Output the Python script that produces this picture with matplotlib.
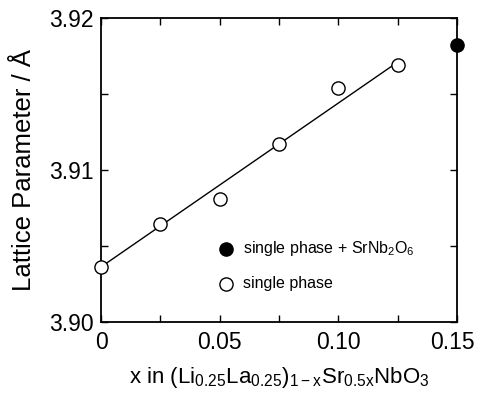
import matplotlib
matplotlib.use("Agg")
import matplotlib.pyplot as plt
from matplotlib.ticker import MultipleLocator
from matplotlib.transforms import ScaledTranslation

plt.rcParams['font.family'] = ['Liberation Sans', 'DejaVu Sans']
plt.rcParams['mathtext.fontset'] = 'custom'
plt.rcParams['mathtext.rm'] = 'Liberation Sans'

# data
x_single = [0.0, 0.025, 0.05, 0.075, 0.10, 0.125]
a_single = [3.9036, 3.9064, 3.9081, 3.9117, 3.9154, 3.9169]
x_mixed = [0.15]
a_mixed = [3.9182]
fit_x = [0.0, 0.125]
fit_y = [3.9036, 3.9171]

fig = plt.figure(figsize=(4.78, 3.95), dpi=100)
ax = fig.add_axes([0.2113, 0.1858, 0.745, 0.7686])

ax.plot(fit_x, fit_y, color='black', lw=1.0, zorder=2)
ax.plot(x_single, a_single, 'o', ms=9.5, mfc='white', mec='black', mew=1.0,
        clip_on=False, zorder=3)
ax.plot(x_mixed, a_mixed, 'o', ms=9.5, mfc='black', mec='black',
        clip_on=False, zorder=3)

ax.set_xlim(0, 0.15)
ax.set_ylim(3.90, 3.92)
ax.xaxis.set_minor_locator(MultipleLocator(0.025))
ax.yaxis.set_minor_locator(MultipleLocator(0.005))
ax.set_xticks([0, 0.05, 0.10, 0.15])
ax.set_xticklabels(['0', '0.05', '0.10', '0.15'])
ax.set_yticks([3.90, 3.91, 3.92])
ax.set_yticklabels(['3.90', '3.91', '3.92'])
ax.tick_params(which='both', direction='in', length=5, width=1.0,
               top=True, right=True, labelsize=16.5)
ax.tick_params(axis='x', pad=7)
ax.tick_params(axis='y', pad=5)
for s in ax.spines.values():
    s.set_linewidth(1.3)

# nudge the last x label so it stays inside the figure
lbl = ax.get_xticklabels()[-1]
lbl.set_transform(lbl.get_transform() + ScaledTranslation(-5 / 100, 0, fig.dpi_scale_trans))

ax.set_ylabel('Lattice Parameter / Å', fontsize=18.5, labelpad=10)
ax.set_xlabel(r'x in (Li$\mathregular{_{0.25}}$La$\mathregular{_{0.25}}$)'
              r'$\mathregular{_{1-x}}$Sr$\mathregular{_{0.5x}}$NbO$\mathregular{_3}$',
              fontsize=16, labelpad=8)

# manual legend
ax.plot([0.0527], [3.9048], 'o', ms=9.5, mfc='black', mec='black')
ax.plot([0.0527], [3.9025], 'o', ms=9.5, mfc='white', mec='black', mew=1.0)
ax.text(0.0598, 3.9048, r'single phase + SrNb$\mathregular{_2}$O$\mathregular{_6}$',
        fontsize=11.5, va='center')
ax.text(0.0598, 3.9025, 'single phase', fontsize=11.5, va='center')

fig.savefig('out.png', dpi=100)
